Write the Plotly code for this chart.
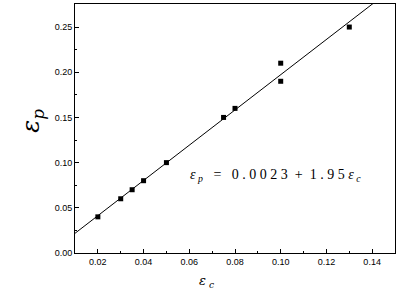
import plotly.graph_objects as go

# Data
eps_c = [0.02, 0.03, 0.035, 0.04, 0.05, 0.075, 0.08, 0.10, 0.10, 0.13]
eps_p = [0.04, 0.06, 0.07, 0.08, 0.10, 0.15, 0.16, 0.19, 0.21, 0.25]

# Fit line: eps_p = a + b * eps_c
fit_intercept = 0.0023
fit_slope = 1.95
x_range = [0.01, 0.15]
y_range = [0.0, 0.2755]

x_ticks = [0.02, 0.04, 0.06, 0.08, 0.10, 0.12, 0.14]
y_ticks = [0.00, 0.05, 0.10, 0.15, 0.20, 0.25]

fit_x = list(x_range)
fit_y = [fit_intercept + fit_slope * v for v in fit_x]

fig = go.Figure()
fig.add_trace(go.Scatter(x=fit_x, y=fit_y, mode="lines",
                         line=dict(color="black", width=1), showlegend=False))
fig.add_trace(go.Scatter(x=eps_c, y=eps_p, mode="markers",
                         marker=dict(symbol="square", size=5, color="black"),
                         showlegend=False))

axis_common = dict(showgrid=False, zeroline=False, showline=True, linecolor="black",
                   linewidth=1, mirror=True, ticks="inside", ticklen=4,
                   tickcolor="black", tickfont=dict(family="Liberation Sans", size=9, color="black"))

fig.update_xaxes(range=x_range, tickvals=x_ticks,
                 ticktext=[f"{v:.2f}" for v in x_ticks],
                 minor=dict(ticks="inside", ticklen=2, dtick=0.01, tickcolor="black"),
                 **axis_common)
fig.update_yaxes(range=y_range, tickvals=y_ticks,
                 ticktext=[f"{v:.2f}" for v in y_ticks],
                 minor=dict(ticks="inside", ticklen=2, dtick=0.025, tickcolor="black"),
                 **axis_common)

fig.add_annotation(text="<i>ε<sub>p</sub></i>", xref="paper", yref="paper",
                   x=-0.19, y=0.53, textangle=-90, showarrow=False,
                   font=dict(family="DejaVu Serif", size=24, color="black"))
fig.add_annotation(text="<i>ε<sub> c</sub></i>", xref="paper", yref="paper",
                   x=0.41, y=-0.115, showarrow=False, yanchor="middle",
                   font=dict(family="DejaVu Serif", size=13, color="black"))
fig.add_annotation(text="<i>ε</i><sub> <i>p</i></sub>   =   0 . 0 0 2 3  +  1 . 9 5 <i>ε</i><sub> <i>c</i></sub>",
                   xref="paper", yref="paper", x=0.625, y=0.27, showarrow=False,
                   font=dict(family="Liberation Serif", size=14, color="black"))

fig.update_layout(width=400, height=297, margin=dict(l=75, r=5, t=4, b=44),
                  plot_bgcolor="white", paper_bgcolor="white")

fig.write_html("out.html")
